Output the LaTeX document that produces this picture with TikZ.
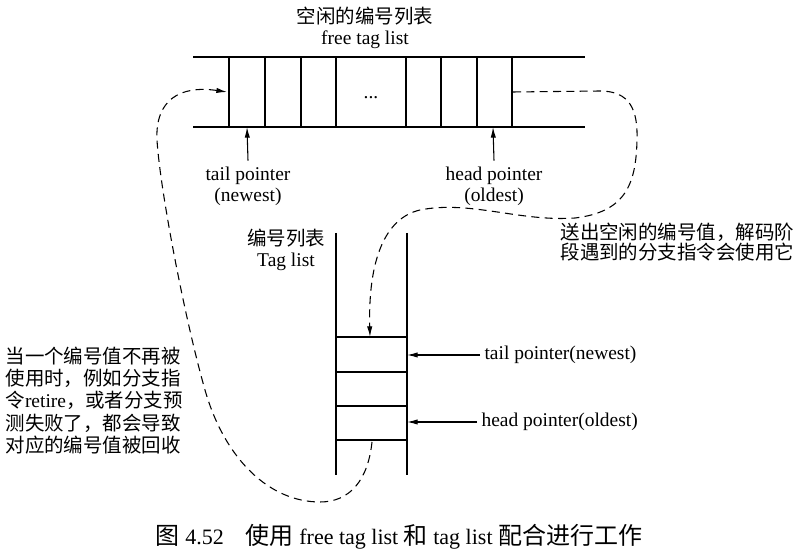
\documentclass[tikz,border=0pt]{standalone}
\usepackage{fontspec}
\setmainfont{Liberation Serif}
\newfontfamily\cjk{Noto Sans CJK SC}
\usetikzlibrary{arrows.meta}

\begin{document}
\begin{tikzpicture}[x=0.75pt,y=-0.75pt,line width=0.8pt,
    txt/.style={font=\fontsize{14.6}{16}\selectfont, inner sep=0pt, align=center},
    ptr/.style={-{Latex[length=8pt,width=4pt]}},
    flow/.style={dash pattern=on 6pt off 4pt, -{Latex[length=8pt,width=4pt]}}]
\useasboundingbox (0,0) rectangle (803,555);

\draw (193,57) -- (585,57);
\draw (193,127) -- (585,127);
\foreach \x in {229,265,301,336,406,441,477,512} {
    \draw (\x,57) -- (\x,127);
}
\node[txt, anchor=base] (dots) at (371,99) {...};
\node[txt, font=\fontsize{14.6}{15.8}\selectfont] (ftitle) at (365,28) {{\cjk 空闲的编号列表}\\free tag list};

\coordinate (ftail) at (247,127);
\coordinate (fhead) at (493,127);
\node[txt, inner sep=4pt] (ftaillbl) at (248,186) {tail pointer\\(newest)};
\node[txt, inner sep=4pt] (fheadlbl) at (494,186) {head pointer\\(oldest)};
\draw[ptr] (ftaillbl.north) -- (ftail);
\draw[ptr] (fheadlbl.north) -- (fhead);

\draw (336,233) -- (336,475);
\draw (407,233) -- (407,475);
\foreach \y in {337,372,406,440} {
    \draw (336,\y) -- (407,\y);
}
\node[txt] (tlist) at (286,250) {{\cjk 编号列表}\\Tag list};

\coordinate (ttail) at (407,355);
\coordinate (thead) at (407,422);
\node[txt, anchor=west, inner sep=3pt] (ttaillbl) at (480,355) {tail pointer(newest)};
\node[txt, anchor=west, inner sep=3pt] (theadlbl) at (477,422) {head pointer(oldest)};
\draw[ptr] (ttaillbl.west) -- (ttail);
\draw[ptr] (theadlbl.west) -- (thead);

\node[txt, align=left, anchor=north west, font=\fontsize{14.6}{15}\selectfont\cjk] (sendtxt) at (560,223)
    {送出空闲的编号值，解码阶\\段遇到的分支指令会使用它};
\node[txt, align=left, anchor=north west, font=\fontsize{14.6}{16.8}\selectfont\cjk] (backtxt) at (5,346)
    {当一个编号值不再被\\使用时，例如分支指\\令{\rmfamily retire}，或者分支预\\测失败了，都会导致\\对应的编号值被回收};

\coordinate (fout) at (513,92);
\coordinate (tin) at (370,337);
\coordinate (tout) at (372,442);
\coordinate (fin) at (227,92);
\draw[flow] (fout) -- (600,91) .. controls (630,91) and (638,110) .. (637,140)
    .. controls (636,185) and (625,212) .. (575,218)
    .. controls (520,222) and (470,200) .. (420,210)
    .. controls (385,218) and (368,260) .. (tin);
\draw[flow] (tout) .. controls (368,480) and (350,502) .. (320,502)
    .. controls (270,502) and (225,460) .. (205,390)
    .. controls (185,320) and (160,190) .. (157,140)
    .. controls (155,100) and (180,85) .. (fin);

\node[txt, font=\fontsize{16.5}{18}\selectfont] (caption) at (399,537)
    {{\cjk\fontsize{18}{18}\selectfont 图}~4.52\quad{\cjk\fontsize{18}{18}\selectfont 使用} free tag list {\cjk\fontsize{18}{18}\selectfont 和} tag list {\cjk\fontsize{18}{18}\selectfont 配合进行工作}};
\end{tikzpicture}
\end{document}
